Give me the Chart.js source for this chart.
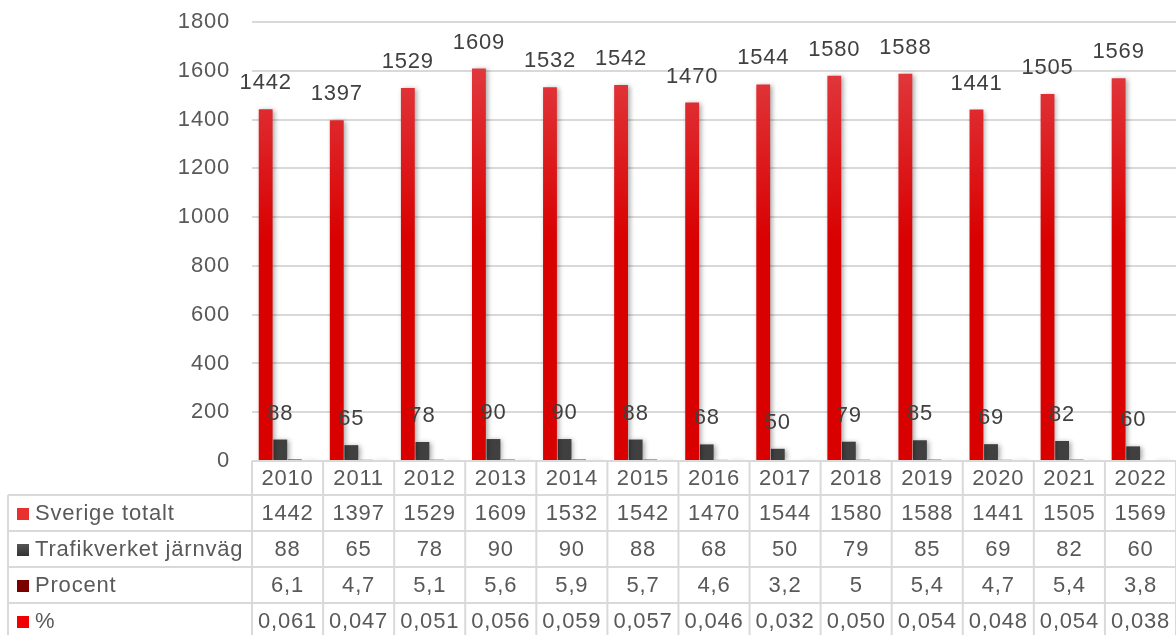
<!DOCTYPE html>
<html>
<head>
<meta charset="utf-8">
<script src="https://cdn.jsdelivr.net/npm/chart.js@4.4.1/dist/chart.umd.min.js"></script>
<style>
  html, body { margin: 0; padding: 0; background: #fff; }
  #wrap { width: 1176px; height: 635px; }
</style>
</head>
<body>
<div id="wrap"><canvas id="chart"></canvas></div>
<script>
// Data
const years = ['2010','2011','2012','2013','2014','2015','2016','2017','2018','2019','2020','2021','2022'];
const sverige = [1442, 1397, 1529, 1609, 1532, 1542, 1470, 1544, 1580, 1588, 1441, 1505, 1569];
const trafikverket = [88, 65, 78, 90, 90, 88, 68, 50, 79, 85, 69, 82, 60];
const procent = [6.1, 4.7, 5.1, 5.6, 5.9, 5.7, 4.6, 3.2, 5, 5.4, 4.7, 5.4, 3.8];
const andel = [0.061, 0.047, 0.051, 0.056, 0.059, 0.057, 0.046, 0.032, 0.050, 0.054, 0.048, 0.054, 0.038];
const seriesNames = ['Sverige totalt', 'Trafikverket järnväg', 'Procent', '%'];

const FONT = '"Liberation Sans", Arial, sans-serif';
const TEXT = '#595959';
const GRID = '#d9d9d9';
const SPACING = '0.8px';

// vertical gradient per bar colour
function grad(top, bottom) {
  return function (c) {
    const area = c.chart.chartArea;
    if (!area) return bottom;
    const g = c.chart.ctx.createLinearGradient(0, area.top, 0, area.bottom);
    g.addColorStop(0, top);
    g.addColorStop(0.5, bottom);
    g.addColorStop(1, bottom);
    return g;
  };
}
const swatch = ['#e83030', '#555555', '#7a0000', '#f00000'];

// Excel-like wide letter spacing for all text
const spacingPlugin = {
  id: 'spacing',
  beforeDraw(chart) {
    chart.ctx.letterSpacing = SPACING;
  }
};

// soft shadow behind bars
const shadowPlugin = {
  id: 'barShadow',
  beforeDatasetsDraw(chart) {
    const c = chart.ctx;
    c.save();
    c.shadowColor = 'rgba(0,0,0,0.35)';
    c.shadowBlur = 5;
    c.shadowOffsetX = 2;
    c.shadowOffsetY = 1;
  },
  afterDatasetsDraw(chart) {
    chart.ctx.restore();
  }
};

// value labels over the first two series
const labelPlugin = {
  id: 'valueLabels',
  afterDatasetsDraw(chart) {
    const c = chart.ctx;
    c.save();
    c.letterSpacing = SPACING;
    c.font = '22px ' + FONT;
    c.fillStyle = '#404040';
    c.textAlign = 'center';
    c.textBaseline = 'middle';
    [0, 1].forEach(di => {
      const meta = chart.getDatasetMeta(di);
      meta.data.forEach((bar, i) => {
        c.fillText(String(chart.data.datasets[di].data[i]), bar.x, bar.y - 26);
      });
    });
    c.restore();
  }
};

// data table under the plot
const tablePlugin = {
  id: 'dataTable',
  afterDraw(chart) {
    const c = chart.ctx;
    const area = chart.chartArea;
    const xs = chart.scales.x;
    const colW = (area.right - area.left) / years.length;
    const rows = [area.bottom, 495, 531, 567, 603, 639];
    const leftX = 8;
    const rowText = [
      sverige.map(String),
      trafikverket.map(String),
      procent.map(v => String(v).replace('.', ',')),
      andel.map(v => v.toFixed(3).replace('.', ','))
    ];
    c.save();
    c.letterSpacing = SPACING;
    c.strokeStyle = GRID;
    c.lineWidth = 2;
    // top border (covers the zero line)
    c.beginPath();
    c.moveTo(area.left, area.bottom);
    c.lineTo(area.right, area.bottom);
    c.stroke();
    // horizontal lines
    for (let r = 1; r < rows.length; r++) {
      c.beginPath();
      c.moveTo(leftX, rows[r]);
      c.lineTo(area.right, rows[r]);
      c.stroke();
    }
    // vertical lines
    for (let i = 0; i <= years.length; i++) {
      const x = area.left + i * colW;
      c.beginPath();
      c.moveTo(x, area.bottom);
      c.lineTo(x, 635);
      c.stroke();
    }
    c.beginPath();
    c.moveTo(leftX, rows[1]);
    c.lineTo(leftX, 635);
    c.stroke();

    c.font = '22px ' + FONT;
    c.fillStyle = TEXT;
    c.textBaseline = 'middle';
    c.textAlign = 'center';
    years.forEach((y, i) => {
      c.fillText(y, xs.getPixelForValue(i), (rows[0] + rows[1]) / 2 + 1);
    });
    rowText.forEach((vals, r) => {
      const cy = (rows[r + 1] + rows[r + 2]) / 2 + 1;
      vals.forEach((v, i) => {
        c.fillText(v, xs.getPixelForValue(i), cy);
      });
      // legend key + series name
      const g = c.createLinearGradient(0, cy - 6, 0, cy + 6);
      g.addColorStop(0, swatch[r]);
      g.addColorStop(1, r === 1 ? '#333333' : swatch[r]);
      c.fillStyle = g;
      c.fillRect(17, cy - 6, 12, 12);
      c.fillStyle = TEXT;
      c.textAlign = 'left';
      c.fillText(seriesNames[r], 35, cy);
      c.textAlign = 'center';
    });
    c.restore();
  }
};

const ctx = document.getElementById('chart').getContext('2d');
const chart = new Chart(ctx, {
  type: 'bar',
  data: {
    labels: years,
    datasets: [
      { label: seriesNames[0], data: sverige, backgroundColor: grad('#e2474d', '#d90000') },
      { label: seriesNames[1], data: trafikverket, backgroundColor: grad('#666666', '#404040') },
      { label: seriesNames[2], data: procent, backgroundColor: grad('#8c1010', '#6a0000') },
      { label: seriesNames[3], data: andel, backgroundColor: grad('#ff2020', '#f00000') }
    ]
  },
  options: {
    responsive: true,
    maintainAspectRatio: false,
    animation: false,
    events: [],
    layout: { padding: { top: 22, right: 0, bottom: 174, left: 0 } },
    datasets: { bar: { categoryPercentage: 0.82, barPercentage: 0.95 } },
    plugins: { legend: { display: false }, tooltip: { enabled: false } },
    scales: {
      x: {
        display: false
      },
      y: {
        min: 0,
        max: 1800,
        ticks: {
          stepSize: 200,
          color: TEXT,
          font: { family: FONT, size: 22 },
          padding: 22,
          callback: v => String(v)
        },
        grid: { color: GRID, lineWidth: 2, drawTicks: false },
        border: { display: false },
        afterFit(scale) {
          scale.width = 252;
          scale.paddingTop = 0;
          scale.paddingBottom = 0;
        }
      }
    }
  },
  plugins: [spacingPlugin, shadowPlugin, labelPlugin, tablePlugin]
});
</script>
</body>
</html>
